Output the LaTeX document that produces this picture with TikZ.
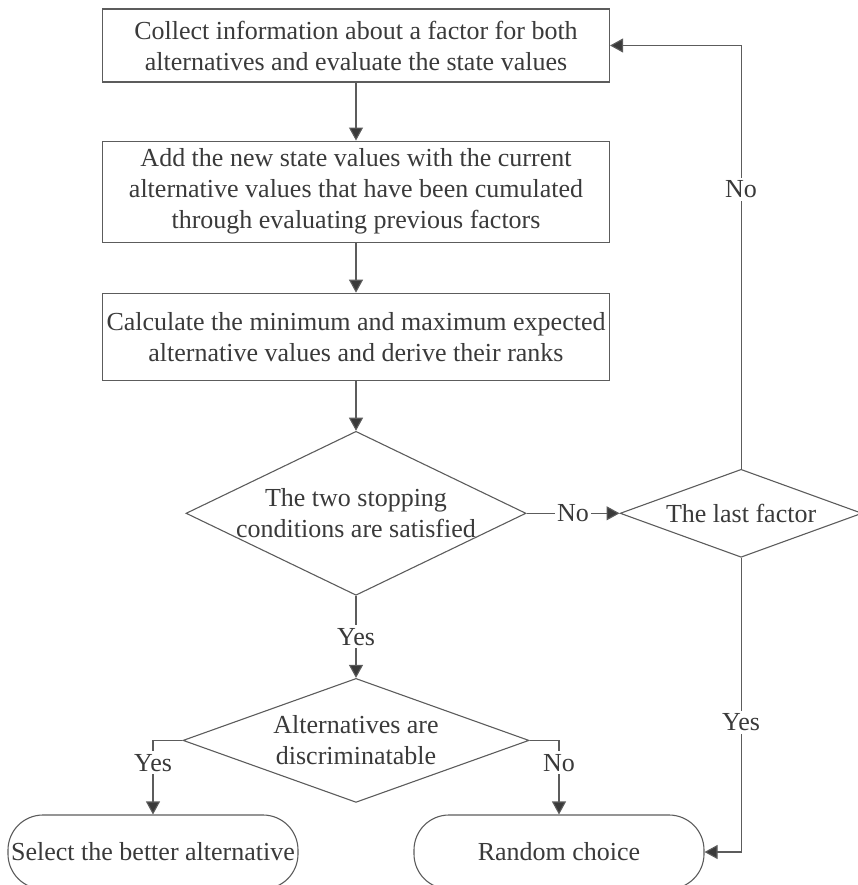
\documentclass[tikz,border=0pt]{standalone}
\usepackage{fontspec}
\setmainfont{Liberation Serif}
\usetikzlibrary{positioning,shapes.geometric,arrows.meta}
\definecolor{linegray}{HTML}{5C5C5C}
\definecolor{textgray}{HTML}{3A3A3A}
\begin{document}
\begin{tikzpicture}[x=1pt,y=1pt,
    font=\fontsize{26}{31}\selectfont,
    procbox/.style={draw=linegray, line width=1.1pt, text=textgray, align=center,
      minimum width=507pt, inner sep=0pt},
    decision/.style={draw=linegray, line width=1.1pt, diamond, inner sep=0pt},
    dectext/.style={text=textgray, align=center, inner sep=0pt},
    terminal/.style={draw=linegray, line width=1.1pt, rounded corners=35pt, text=textgray,
      minimum width=290pt, minimum height=74pt, inner sep=0pt},
    flow/.style={draw=linegray, line width=1.1pt, -{Triangle[length=13pt,width=14pt,fill=textgray]}},
    lbl/.style={fill=white, text=textgray, inner xsep=2pt, inner ysep=3pt}]
    \useasboundingbox (0,0) rectangle (857,-885);
    \node[procbox, minimum height=73pt] (collect) at (356,-45.5)
      {Collect information about a factor for both\\alternatives and evaluate the state values};
    \node[procbox, minimum height=101pt, below=58pt of collect] (add)
      {Add the new state values with the current\\alternative values that have been cumulated\\through evaluating previous factors};
    \node[procbox, minimum height=87pt, below=50pt of add] (calc)
      {Calculate the minimum and maximum expected\\alternative values and derive their ranks};
    \node[decision, minimum width=340pt, minimum height=164pt, below=50pt of calc] (stop) {};
    \node[dectext] at (stop) {The two stopping\\conditions are satisfied};
    \node[decision, minimum width=242pt, minimum height=88pt, right=93pt of stop] (last) {};
    \node[dectext] at (last) {The last factor};
    \node[decision, minimum width=346pt, minimum height=124pt, below=82pt of stop] (discr) {};
    \node[dectext] at (discr) {Alternatives are\\discriminatable};
    \node[terminal] (select) at (153,-852) {Select the better alternative};
    \node[terminal] (random) at (559,-852) {Random choice};
    \draw[flow] (collect) -- (add);
    \draw[flow] (add) -- (calc);
    \draw[flow] (calc) -- (stop);
    \draw[flow] (stop) -- node[lbl] {No} (last);
    \draw[flow] (stop) -- node[lbl] {Yes} (discr);
    \draw[flow] (last.north) |- node[lbl, pos=0.33] {No} (collect.east);
    \draw[flow] (last.south) |- node[lbl, pos=0.28] {Yes} (random.east);
    \draw[flow] (discr.west) -| node[lbl, pos=0.65] {Yes} (select.north);
    \draw[flow] (discr.east) -| node[lbl, pos=0.65] {No} (random.north);
\end{tikzpicture}
\end{document}
